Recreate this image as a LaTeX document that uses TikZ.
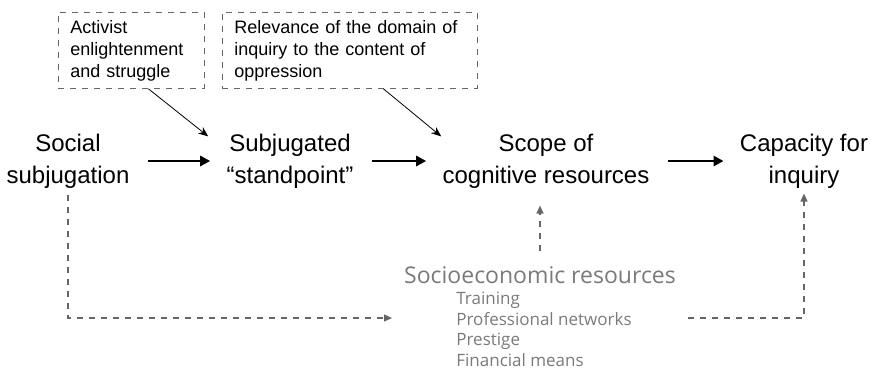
\documentclass[tikz,border=0pt]{standalone}
\usepackage{fontspec}
\setmainfont{Liberation Sans}
\newfontfamily\grayfont{Open Sans}
\usetikzlibrary{arrows.meta}
\definecolor{lightink}{HTML}{7A7A7A}
\definecolor{dashink}{HTML}{666666}

\tikzset{
  factor/.style={align=center, inner sep=0pt, font=\fontsize{12}{16}\selectfont},
  note/.style={draw=dashink, dashed, anchor=north west, align=left, inner xsep=6pt,
    minimum height=38pt, font=\fontsize{9}{11}\selectfont},
  cause/.style={-{Triangle[length=5pt,width=5pt]}, line width=1.4pt, shorten <=9pt, shorten >=8pt},
  hint/.style={-{Stealth[length=5pt,width=4pt]}, thin},
  resource/.style={dashink, dashed, line width=0.7pt, -{Triangle[length=4pt,width=3.5pt]}},
}

\begin{document}
\begin{tikzpicture}[x=0.5pt,y=-0.5pt]
  \useasboundingbox (0,0) rectangle (871,372);
  % notes on top
  \node[note, text width=61pt] (act) at (58,12) {Activist\\enlightenment\\and struggle};
  \node[note, text width=115.5pt] (rel) at (222,12) {Relevance of the domain of\\inquiry to the content of\\oppression};
  % main chain
  \node[factor] (social) at (68,161) {Social\\subjugation};
  \node[factor] (std) at (290,161) {Subjugated\\“standpoint”};
  \node[factor] (scope) at (546,161) {Scope of\\cognitive resources};
  \node[factor] (cap) at (804,161) {Capacity for\\inquiry};
  \draw[cause] (social) -- (std);
  \draw[cause] (std) -- (scope);
  \draw[cause] (scope) -- (cap);
  \draw[hint] ([xshift=8.5pt]act.south) -- ([xshift=-9pt,yshift=-1.5pt]std.north west);
  \draw[hint] ([xshift=16.75pt]rel.south) -- ([xshift=-0.5pt,yshift=-1.5pt]scope.north west);
  % socioeconomic resources
  \node[lightink, font=\grayfont\fontsize{11.5}{14}\selectfont] (socio) at (540,275) {Socioeconomic resources};
  \node[lightink, anchor=north west, align=left, inner sep=0pt,
    font=\grayfont\fontsize{8.5}{10.2}\selectfont] (assets) at (456,292)
    {Training\\Professional networks\\Prestige\\Financial means};
  \coordinate (feed) at (392,318);
  \coordinate (drain) at (688,318);
  \draw[resource, shorten <=3pt] (social.south) |- (feed);
  \draw[resource, shorten <=4pt, shorten >=8.5pt] (socio.north) -- (socio.north |- scope.south);
  \draw[resource, shorten >=2.5pt] (drain) -| (cap.south);
\end{tikzpicture}
\end{document}
